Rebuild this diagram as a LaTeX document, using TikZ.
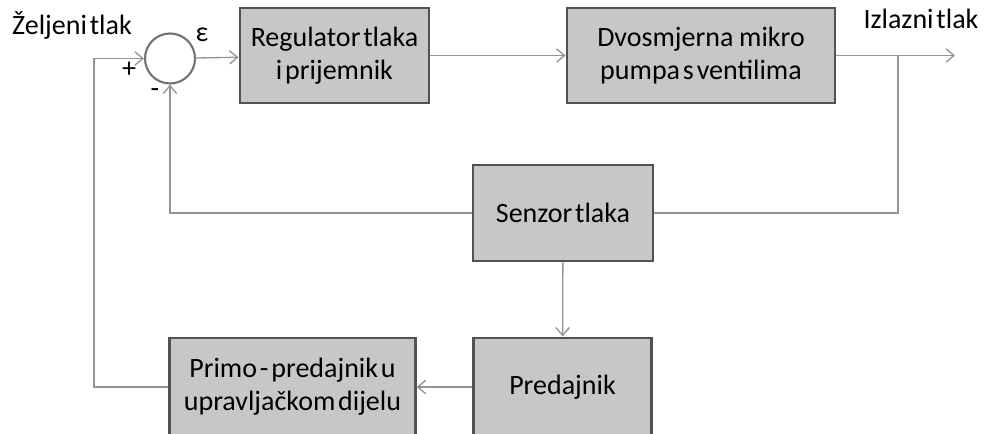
\documentclass[tikz,border=0pt]{standalone}
\usepackage{fontspec}
\setmainfont{Carlito}[WordSpace=0.45]
\usetikzlibrary{arrows.meta}

\begin{document}
\begin{tikzpicture}[x=0.75pt,y=-0.75pt, every node/.style={font=\fontsize{21}{25}\selectfont},
  blok/.style={draw=black!68, line width=2.2pt, fill=black!22, align=center, inner sep=0pt},
  veza/.style={draw=black!42, line width=1pt, -{Straight Barb[length=6pt,width=10pt]}},
  linija/.style={draw=black!42, line width=1pt}]
  \useasboundingbox (0,0) rectangle (985,434);

  \node[draw=black!55, line width=1.6pt, circle, minimum size=37.5pt, inner sep=0pt] (sum) at (170,58.5) {};
  \node[blok, minimum width=141.75pt, minimum height=71.25pt] (reg) at (334.5,55.5) {Regulator tlaka\\i prijemnik};
  \node[blok, minimum width=201pt, minimum height=71.25pt] (pumpa) at (701,55.5) {Dvosmjerna\ \ mikro\\pumpa s ventilima};
  \node[blok, minimum width=135pt, minimum height=72pt] (senzor) at (563,213) {Senzor tlaka};
  \node[blok, minimum width=134pt, minimum height=73.5pt] (predajnik) at (562.5,387) {Predajnik};
  \node[blok, minimum width=184pt, minimum height=73.5pt] (primo) at (292.5,387) {Primo - predajnik u\\upravljačkom dijelu};

  \node[anchor=base] (zeljeni) at (72,35) {Željeni tlak};
  \node[anchor=base] (izlazni) at (921,29) {Izlazni tlak};
  \node (eps) at (202,35) {ε};
  \node (plus) at (129,70) {+};
  \node (minus) at (155,93) {-};

  \coordinate (izlaz) at (955,55.5);
  \coordinate (grana) at (898,55.5);
  \coordinate (lijevo) at (94,387);

  \draw[veza] (sum) -- (reg);
  \draw[veza] (reg) -- (pumpa);
  \draw[veza] (pumpa.east) -- (izlaz);
  \draw[linija] (grana) |- (senzor.east);
  \draw[veza] (senzor.west) -| (sum.south);
  \draw[veza] (senzor) -- (predajnik);
  \draw[veza] (predajnik) -- (primo);
  \draw[veza] (primo.west) -- (lijevo) |- (sum.west);
\end{tikzpicture}
\end{document}
